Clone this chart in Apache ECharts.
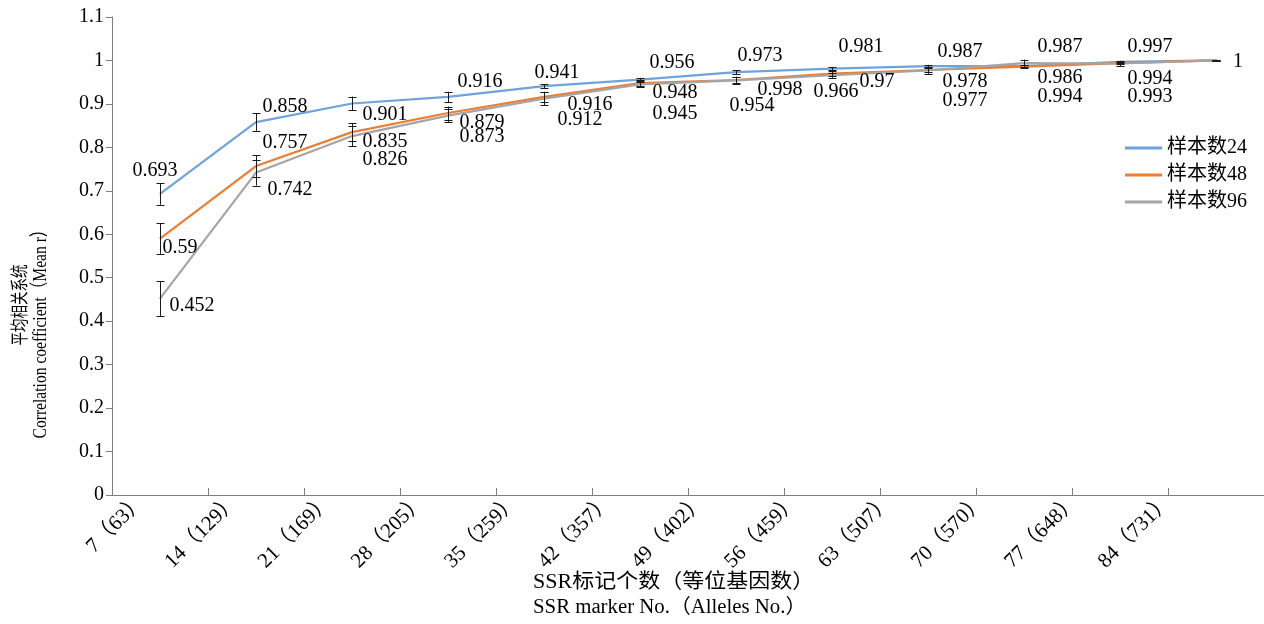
<!DOCTYPE html>
<html>
<head>
<meta charset="utf-8">
<script src="https://cdn.jsdelivr.net/npm/echarts@6.0.0/dist/echarts.min.js"></script>
<style>
  html, body { margin: 0; padding: 0; background: #fff; }
  #chart { width: 1264px; height: 624px; }
</style>
</head>
<body>
<div id="chart"></div>
<script>
var categories = ['7（63）', '14（129）', '21（169）', '28（205）', '35（259）', '42（357）',
  '49（402）', '56（459）', '63（507）', '70（570）', '77（648）', '84（731）'];
var seriesNames = ['样本数24', '样本数48', '样本数96'];

// mean r
var mean24 = [0.693, 0.858, 0.901, 0.916, 0.941, 0.956, 0.973, 0.981, 0.987, 0.987, 0.997, 1];
var mean48 = [0.59, 0.757, 0.835, 0.879, 0.916, 0.948, 0.955, 0.97, 0.978, 0.986, 0.994, 1];
var mean96 = [0.452, 0.742, 0.826, 0.873, 0.912, 0.945, 0.954, 0.966, 0.977, 0.994, 0.993, 1];

// printed labels (as in the figure)
var text24 = ['0.693', '0.858', '0.901', '0.916', '0.941', '0.956', '0.973', '0.981', '0.987', '0.987', '0.997', '1'];
var text48 = ['0.59', '0.757', '0.835', '0.879', '0.916', '0.948', '0.998', '0.97', '0.978', '0.986', '0.994', ''];
var text96 = ['0.452', '0.742', '0.826', '0.873', '0.912', '0.945', '0.954', '0.966', '0.977', '0.994', '0.993', ''];

// error (+/-)
var err24 = [0.025, 0.02, 0.016, 0.012, 0.005, 0.004, 0.005, 0.004, 0.003, 0.003, 0.002, 0.001];
var err48 = [0.035, 0.025, 0.02, 0.015, 0.012, 0.006, 0.008, 0.006, 0.005, 0.004, 0.003, 0.001];
var err96 = [0.04, 0.03, 0.023, 0.015, 0.015, 0.006, 0.008, 0.006, 0.008, 0.008, 0.006, 0.002];

// label offsets (px) from each point
var off24 = [[-5, -23], [29, -15], [33, 11], [32, -15], [13, -13], [32, -17], [24, -16], [29, -22], [32, -14], [36, -19], [30, -15], [22, 1]];
var off48 = [[20, 9], [29, -23], [33, 10], [34, 10], [46, 8], [35, 10], [44, 10], [45, 8], [37, 12], [36, 11], [30, 16], [0, 0]];
var off96 = [[32, 7], [34, 17], [33, 24], [34, 21], [36, 21], [35, 29], [16, 25], [4, 17], [37, 30], [36, 34], [30, 33], [0, 0]];

var colors = ['#6FA3DB', '#ED7D31', '#A5A5A5'];
var serif = '"Liberation Serif", "Noto Sans CJK SC", serif';

var myChart = echarts.init(document.getElementById('chart'));

function lineSeries(name, mean, text, off, color) {
  return {
    name: name,
    type: 'line',
    xAxisIndex: 0,
    yAxisIndex: 0,
    data: mean.map(function (v, i) {
      return { value: v, label: { offset: off[i] } };
    }),
    symbol: 'circle',
    symbolSize: 1,
    showSymbol: true,
    itemStyle: { color: color },
    lineStyle: { color: color, width: 2.2 },
    label: {
      show: true,
      position: 'inside',
      color: '#000',
      fontFamily: serif,
      fontSize: 20,
      formatter: function (p) { return text[p.dataIndex]; }
    },
    z: 2,
    silent: true
  };
}

function errorSeries(name, mean, err) {
  return {
    name: name + 'err',
    type: 'custom',
    xAxisIndex: 0,
    yAxisIndex: 0,
    encode: { x: 0, y: [1, 2] },
    data: mean.map(function (v, i) { return [i, v - err[i], v + err[i]]; }),
    renderItem: function (params, api) {
      var lo = api.coord([api.value(0), api.value(1)]);
      var hi = api.coord([api.value(0), api.value(2)]);
      var x = Math.round(lo[0]) + 0.5;
      var hw = 4;
      var st = { stroke: '#1a1a1a', lineWidth: 1 };
      return {
        type: 'group',
        children: [
          { type: 'line', shape: { x1: x, y1: lo[1], x2: x, y2: hi[1] }, style: st },
          { type: 'line', shape: { x1: x - hw, y1: Math.round(lo[1]) + 0.5, x2: x + hw, y2: Math.round(lo[1]) + 0.5 }, style: st },
          { type: 'line', shape: { x1: x - hw, y1: Math.round(hi[1]) + 0.5, x2: x + hw, y2: Math.round(hi[1]) + 0.5 }, style: st }
        ]
      };
    },
    z: 3,
    silent: true
  };
}

var option = {
  animation: false,
  backgroundColor: '#fff',
  color: colors,
  grid: [
    { left: 112, top: 17, width: 1152, height: 478 },
    // labels sit a bit right of the ticks, like the original
    { left: 142, top: 17, width: 1152, height: 478 }
  ],
  legend: {
    data: seriesNames,
    orient: 'vertical',
    left: 1120,
    top: 133,
    itemGap: 7,
    itemWidth: 37,
    itemHeight: 3,
    icon: 'rect',
    textStyle: { fontFamily: serif, fontSize: 20, color: '#000' }
  },
  xAxis: [
    {
      type: 'category',
      gridIndex: 0,
      data: categories,
      boundaryGap: true,
      axisLine: { lineStyle: { color: '#7f7f7f', width: 1 } },
      axisTick: { show: true, inside: true, length: 7, lineStyle: { color: '#7f7f7f' } },
      axisLabel: { show: false }
    },
    {
      type: 'category',
      gridIndex: 1,
      data: categories.concat(['']),
      boundaryGap: false,
      axisLine: { show: false },
      axisTick: { show: false },
      axisLabel: {
        interval: 0,
        rotate: 45,
        margin: 3,
        color: '#000',
        fontFamily: serif,
        fontSize: 21
      }
    }
  ],
  yAxis: [
    {
      type: 'value',
      gridIndex: 0,
      min: 0,
      max: 1.1,
      interval: 0.1,
      axisLine: { show: true, lineStyle: { color: '#7f7f7f', width: 1 } },
      axisTick: { show: true, length: 6, lineStyle: { color: '#7f7f7f' } },
      splitLine: { show: false },
      axisLabel: {
        margin: 8,
        color: '#000',
        fontFamily: serif,
        fontSize: 20,
        formatter: function (v) { return String(+v.toFixed(1)); }
      }
    },
    { type: 'value', gridIndex: 1, show: false, min: 0, max: 1 }
  ],
  graphic: [
    {
      type: 'text', x: 21, y: 305, rotation: Math.PI / 2, scaleX: 0.75,
      style: { text: '平均相关系统', fontFamily: serif, fontSize: 18, fill: '#000', align: 'center', verticalAlign: 'middle' }
    },
    {
      type: 'text', x: 41, y: 330, rotation: Math.PI / 2, scaleX: 0.82,
      style: { text: 'Correlation coefficient（Mean r）', fontFamily: serif, fontSize: 19, fill: '#000', align: 'center', verticalAlign: 'middle' }
    },
    {
      type: 'text', x: 533, y: 583, scaleX: 1.1,
      style: { text: 'SSR标记个数（等位基因数）', fontFamily: serif, fontSize: 20, fill: '#000', align: 'left', verticalAlign: 'middle' }
    },
    {
      type: 'text', x: 533, y: 608, scaleX: 1.04,
      style: { text: 'SSR marker No.（Alleles No.）', fontFamily: serif, fontSize: 20, fill: '#000', align: 'left', verticalAlign: 'middle' }
    }
  ],
  series: [
    lineSeries(seriesNames[0], mean24, text24, off24, colors[0]),
    lineSeries(seriesNames[1], mean48, text48, off48, colors[1]),
    lineSeries(seriesNames[2], mean96, text96, off96, colors[2]),
    errorSeries(seriesNames[0], mean24, err24),
    errorSeries(seriesNames[1], mean48, err48),
    errorSeries(seriesNames[2], mean96, err96)
  ]
};

myChart.setOption(option, true);
</script>
</body>
</html>
